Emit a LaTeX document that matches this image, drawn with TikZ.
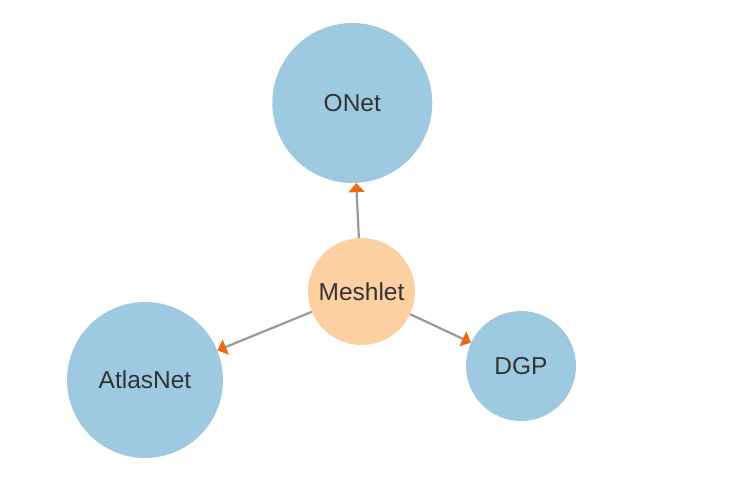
\documentclass[tikz,border=0pt]{standalone}
\usepackage{fontspec}
\setmainfont{Liberation Sans}
\usetikzlibrary{arrows.meta}
\definecolor{nodeblue}{HTML}{9ECAE1}
\definecolor{nodeorange}{HTML}{FDD0A2}
\definecolor{tiporange}{HTML}{EC6A12}
\definecolor{linegray}{HTML}{999999}
\definecolor{textgray}{HTML}{333333}
\begin{document}
\begin{tikzpicture}[x=1pt,y=-1pt,
  bubble/.style={circle,inner sep=0pt,draw=none,text=textgray,font=\fontsize{24.5}{28}\selectfont},
  blue/.style={bubble,fill=nodeblue},
  orange/.style={bubble,fill=nodeorange},
  link/.style={draw=linegray,line width=2.2pt,-{Triangle[length=9pt,width=16pt,fill=tiporange,color=tiporange]}}]
\useasboundingbox (0,0) rectangle (742,482);
\node[blue,minimum size=160pt] (onet) at (352.3,103) {ONet};
\node[orange,minimum size=107pt] (mesh) at (361.5,291.5) {Meshlet};
\node[blue,minimum size=156pt] (atlas) at (145,380) {AtlasNet};
\node[blue,minimum size=110pt] (dgp) at (521,366) {DGP};
\draw[link] (mesh) -- (onet);
\draw[link] (mesh) -- (atlas);
\draw[link] (mesh) -- (dgp);
\end{tikzpicture}
\end{document}
